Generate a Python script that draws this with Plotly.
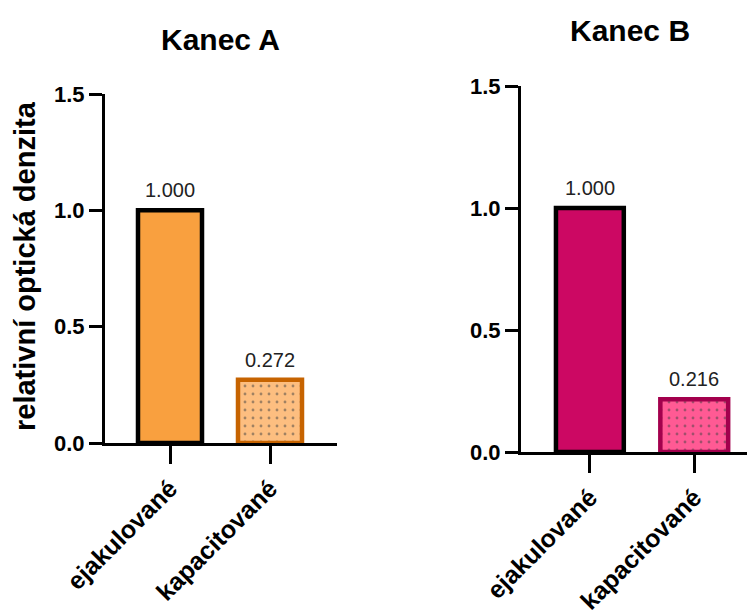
import plotly.graph_objects as go

categories = ["ejakulované", "kapacitované"]
values_a = [1.000, 0.272]
values_b = [1.000, 0.216]
titles = ["Kanec A", "Kanec B"]
y_title = "relativní optická denzita"
y_ticks = [0.0, 0.5, 1.0, 1.5]

W, H = 755, 614
OFF = 8  # page margin of the html body
FONT = "Liberation Sans, Arial, sans-serif"


def px(x):
    return (x - OFF) / W


def py(y):
    return (H + OFF - y) / H


fig = go.Figure()

# Kanec A
fig.add_trace(go.Bar(
    x=categories, y=values_a, xaxis="x", yaxis="y", width=0.64,
    marker=dict(
        color=["#F9A03F", "#FDBE80"],
        line=dict(color=["#000000", "#C66300"], width=4.5),
        pattern=dict(shape=["", "."], fgcolor="#D9741A", bgcolor=["#F9A03F", "#FDBE80"],
                     size=8, solidity=0.1, fillmode="overlay"),
    ),
    cliponaxis=False,
))

# Kanec B
fig.add_trace(go.Bar(
    x=categories, y=values_b, xaxis="x2", yaxis="y2", width=0.65,
    marker=dict(
        color=["#CC0863", "#FF5A94"],
        line=dict(color=["#000000", "#A3004D"], width=4.5),
        pattern=dict(shape=["", "."], fgcolor="#A3004D", bgcolor=["#CC0863", "#FF5A94"],
                     size=8, solidity=0.1, fillmode="overlay"),
    ),
    cliponaxis=False,
))

axis_common = dict(showline=True, linewidth=3, linecolor="black", ticks="outside",
                   tickwidth=3, tickcolor="black", showgrid=False, automargin=False,
                   zeroline=False, fixedrange=True)
xfont = dict(size=25, family=FONT, weight="bold", color="black")
yfont = dict(size=22, family=FONT, weight="bold", color="black")

fig.update_layout(
    width=W, height=H,
    margin=dict(l=0, r=0, t=0, b=0),
    paper_bgcolor="white", plot_bgcolor="white",
    showlegend=False,
    font=dict(family=FONT, color="black"),
    xaxis=dict(domain=[px(105), px(337)], range=[-0.65, 1.67], anchor="y",
               tickangle=-45, tickfont=xfont, ticklen=18, **axis_common),
    yaxis=dict(domain=[py(443), py(94)], range=[0, 1.5], anchor="x",
               tickvals=y_ticks, tickformat=".1f", tickfont=yfont, ticklen=13,
               **axis_common),
    xaxis2=dict(domain=[px(521), px(760)], range=[-0.66, 1.63], anchor="y2",
                tickangle=-45, tickfont=xfont, ticklen=18, **axis_common),
    yaxis2=dict(domain=[py(452), py(86)], range=[0, 1.5], anchor="x2",
                tickvals=y_ticks, tickformat=".1f", tickfont=yfont, ticklen=13,
                **axis_common),
)

# panel titles and y axis title
fig.add_annotation(text=titles[0], x=px(220), y=py(39), xref="paper", yref="paper",
                   showarrow=False, xanchor="center", yanchor="middle",
                   font=dict(size=30, family=FONT, weight="bold", color="black"))
fig.add_annotation(text=titles[1], x=px(630), y=py(30), xref="paper", yref="paper",
                   showarrow=False, xanchor="center", yanchor="middle",
                   font=dict(size=30, family=FONT, weight="bold", color="black"))
fig.add_annotation(text=y_title, x=px(25), y=py(266), xref="paper", yref="paper",
                   showarrow=False, textangle=-90, xanchor="center", yanchor="middle",
                   font=dict(size=29, family=FONT, weight="bold", color="black"))

# value labels above the bars
for xr, yr, vals in [("x", "y", values_a), ("x2", "y2", values_b)]:
    for c, v in zip(categories, vals):
        fig.add_annotation(text=f"{v:.3f}", x=c, y=v, xref=xr, yref=yr,
                           showarrow=False, yanchor="bottom", yshift=7,
                           font=dict(size=20, family=FONT, color="#222222"))

fig.write_html("out.html")
